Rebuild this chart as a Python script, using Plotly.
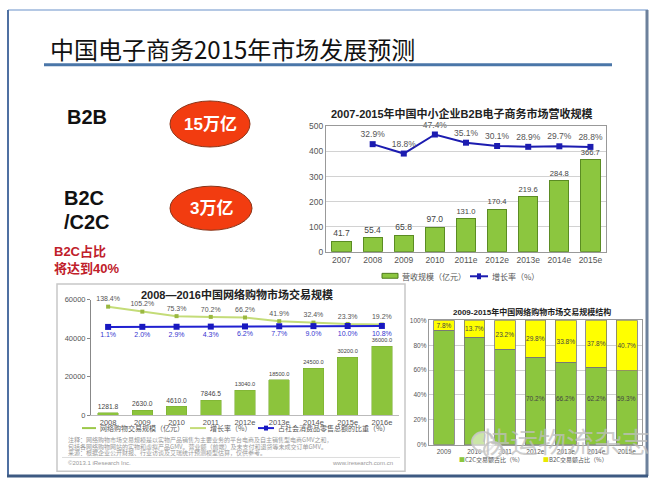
import plotly.graph_objects as go

W, H = 658, 485
def X(px): return px / W
def Y(py): return 1 - py / H

CJK = "Noto Sans CJK SC"
LAT = "Liberation Sans, Noto Sans CJK SC"

# ---------------- data ----------------
# Chart 1: 2007-2015 SME B2B e-commerce revenue
b2b_years = ["2007", "2008", "2009", "2010", "2011e", "2012e", "2013e", "2014e", "2015e"]
b2b_revenue = [41.7, 55.4, 65.8, 97.0, 131.0, 170.4, 219.6, 284.8, 366.7]
b2b_growth_years = ["2008", "2009", "2010", "2011e", "2012e", "2013e", "2014e", "2015e"]
b2b_growth = [32.9, 18.8, 47.4, 35.1, 30.1, 28.9, 29.7, 28.8]

# Chart 2: 2008-2016 online shopping transaction volume
shop_years = ["2008", "2009", "2010", "2011", "2012e", "2013e", "2014e", "2015e", "2016e"]
shop_volume = [1281.8, 2630.0, 4610.0, 7846.5, 13040.0, 18500.0, 24500.0, 30200.0, 36000.0]
shop_growth = [138.4, 105.2, 75.3, 70.2, 66.2, 41.9, 32.4, 23.3, 19.2]
shop_retail_share = [1.1, 2.0, 2.9, 4.3, 6.2, 7.7, 9.0, 10.0, 10.8]

# Chart 3: 2009-2015 structure
struct_years = ["2009", "2010", "2011", "2012e", "2013e", "2014e", "2015e"]
c2c_share = [92.2, 86.3, 76.8, 70.2, 66.2, 62.2, 59.3]
b2c_share = [7.8, 13.7, 23.2, 29.8, 33.8, 37.8, 40.7]

fig = go.Figure()

# ---------------- chart 1 ----------------
fig.add_trace(go.Bar(
    x=b2b_years, y=b2b_revenue, xaxis="x", yaxis="y",
    marker=dict(color="#8cc63f", line=dict(color="#5b8c23", width=1)),
    width=0.62, text=[f"{v:.1f}" for v in b2b_revenue], textposition="outside",
    textfont=dict(size=8.5, color="#444", family=LAT), cliponaxis=False))
fig.add_trace(go.Scatter(
    x=b2b_growth_years, y=b2b_growth, xaxis="x", yaxis="y2",
    mode="lines+markers+text", line=dict(color="#1c1cb0", width=2),
    marker=dict(symbol="square", size=6, color="#1c1cb0"),
    text=[f"{v}%" for v in b2b_growth], textposition="top center",
    textfont=dict(size=8.5, color="#555", family=LAT), cliponaxis=False))

# ---------------- chart 2 ----------------
fig.add_trace(go.Bar(
    x=shop_years, y=shop_volume, xaxis="x2", yaxis="y3",
    marker=dict(color="#8cc43c", line=dict(color="#78aa30", width=0.5)),
    width=0.6, text=[f"{v:.1f}" for v in shop_volume], textposition="outside",
    textfont=dict(size=7, color="#444", family=LAT), cliponaxis=False))
fig.add_trace(go.Scatter(
    x=shop_years, y=shop_growth, xaxis="x2", yaxis="y4",
    mode="lines+markers+text", line=dict(color="#c4dc78", width=2),
    marker=dict(symbol="square", size=4, color="#9ab840"),
    text=[f"{v}%" for v in shop_growth], textposition="top center",
    textfont=dict(size=7, color="#555", family=LAT), cliponaxis=False))
fig.add_trace(go.Scatter(
    x=shop_years, y=shop_retail_share, xaxis="x2", yaxis="y5",
    mode="lines+markers+text", line=dict(color="#2020d0", width=2),
    marker=dict(symbol="square", size=6, color="#1818c0"),
    text=[f"{v:.1f}%" for v in shop_retail_share], textposition="bottom center",
    textfont=dict(size=7, color="#3535d0", family=LAT), cliponaxis=False))

# ---------------- chart 3 ----------------
fig.add_trace(go.Bar(
    x=struct_years, y=c2c_share, xaxis="x3", yaxis="y6",
    marker=dict(color="#8cc63e", line=dict(color="#777", width=0.8)), width=0.68))
fig.add_trace(go.Bar(
    x=struct_years, y=b2c_share, xaxis="x3", yaxis="y6",
    marker=dict(color="#ffff00", line=dict(color="#777", width=0.8)), width=0.68,
    text=[f"{v}%" for v in b2c_share], textposition="inside", insidetextanchor="middle",
    constraintext="none",
    textfont=dict(size=6.5, color="#444", family=LAT), textangle=0))

tick_small = dict(family=LAT, color="#555")

fig.update_layout(
    width=W, height=H, margin=dict(l=0, r=0, t=0, b=0),
    paper_bgcolor="white", plot_bgcolor="white", showlegend=False,
    barmode="stack",
    xaxis=dict(domain=[X(326), X(606)], anchor="y", type="category", range=[-0.5, 8.5],
               tickfont=dict(size=8.5, **tick_small), showline=True, linecolor="#999",
               mirror=True, ticks=""),
    yaxis=dict(domain=[Y(252), Y(124)], anchor="x", range=[0, 500], dtick=100,
               showgrid=True, gridcolor="#d2d2d2", showline=True, linecolor="#999",
               mirror=True, tickfont=dict(size=8.5, **tick_small), ticks="", zeroline=False),
    yaxis2=dict(overlaying="y", anchor="x", range=[-128.7, 59.5], visible=False),
    xaxis2=dict(domain=[X(91), X(399)], anchor="y3", type="category", range=[-0.5, 8.5],
                tickfont=dict(size=7.5, **tick_small), showline=True, linecolor="#bbb",
                ticks=""),
    yaxis3=dict(domain=[Y(419), Y(301)], anchor="x2", range=[0, 60000],
                tickvals=[0, 20000, 40000, 60000], tickformat="d", showgrid=False,
                showline=True, linecolor="#888", ticks="outside", ticklen=3,
                tickcolor="#888", tickfont=dict(size=7.5, **tick_small), zeroline=False),
    yaxis4=dict(overlaying="y3", anchor="x2", range=[-585, 184], visible=False),
    yaxis5=dict(overlaying="y3", anchor="x2", range=[-872, 269], visible=False),
    xaxis3=dict(domain=[X(428.75), X(642)], anchor="y6", type="category",
                range=[-0.5, 6.5], tickfont=dict(size=6.5, **tick_small), showline=True,
                linecolor="#999", mirror=True, ticks=""),
    yaxis6=dict(domain=[Y(449), Y(322)], anchor="x3", range=[0, 100], dtick=20,
                ticksuffix="%", gridcolor="#cfcfcf", showline=True, linecolor="#999",
                mirror=True, tickfont=dict(size=6.5, **tick_small), ticks="",
                zeroline=False),
)

shapes = []
def line(x0, y0, x1, y1, color, width, layer="above"):
    shapes.append(dict(type="line", xref="paper", yref="paper", x0=X(x0), y0=Y(y0),
                       x1=X(x1), y1=Y(y1), line=dict(color=color, width=width), layer=layer))

# slide frame
line(8, 5, 648, 5, "#b4c8e4", 2)
line(8, 5, 8, 481, "#4f70a2", 2)
line(647, 5, 647, 481, "#6d819c", 3)
line(7, 481, 648, 481, "#3d5a82", 3)
# title underline
line(44, 61, 612, 61, "#4a76a8", 3)

# red ellipses
for (x0, y0, x1, y1) in [(170, 98, 250, 145), (170, 185, 252, 230)]:
    shapes.append(dict(type="circle", xref="paper", yref="paper", x0=X(x0), y0=Y(y1),
                       x1=X(x1), y1=Y(y0), fillcolor="#f23c10",
                       line=dict(color="#8a3418", width=1)))

# chart 2 frame & separator
shapes.append(dict(type="rect", xref="paper", yref="paper", x0=X(57), y0=Y(476),
                   x1=X(405), y1=Y(285), line=dict(color="#c8c8c8", width=1.5), layer="below"))
line(62, 462, 400, 462, "#dddddd", 1)

# chart 1 legend swatches
shapes.append(dict(type="rect", xref="paper", yref="paper", x0=X(382), y0=Y(279),
                   x1=X(398), y1=Y(274), fillcolor="#8cc63f",
                   line=dict(color="#4d7a1c", width=1)))
line(470, 277, 488, 277, "#1c1cb0", 2)
shapes.append(dict(type="rect", xref="paper", yref="paper", x0=X(477), y0=Y(280),
                   x1=X(481), y1=Y(274), fillcolor="#1c1cb0", line=dict(width=0)))

# chart 2 legend swatches
line(82, 432, 96, 432, "#9cc84a", 2)
line(190, 432, 206, 432, "#c4dc78", 2)
line(258, 432, 274, 432, "#2020d0", 2)
shapes.append(dict(type="rect", xref="paper", yref="paper", x0=X(264), y0=Y(434.5),
                   x1=X(268), y1=Y(429.5), fillcolor="#1818c0", line=dict(width=0)))

# wechat-like watermark icon
shapes.append(dict(type="circle", xref="paper", yref="paper", x0=X(472), y0=Y(456),
                   x1=X(494), y1=Y(436), fillcolor="rgba(255,255,255,0.55)",
                   line=dict(color="rgba(200,200,200,0.9)", width=2)))
shapes.append(dict(type="circle", xref="paper", yref="paper", x0=X(484), y0=Y(463),
                   x1=X(502), y1=Y(446), fillcolor="rgba(255,255,255,0.55)",
                   line=dict(color="rgba(200,200,200,0.9)", width=2)))

fig.update_layout(shapes=shapes)

ann = []
def txt(x, y, s, size, color="#000", family=CJK, xanchor="left", bold=False, **kw):
    if bold:
        s = f"<b>{s}</b>"
    ann.append(dict(x=X(x), y=Y(y), xref="paper", yref="paper", text=s, showarrow=False,
                    xanchor=xanchor, yanchor="middle",
                    font=dict(size=size, color=color, family=family), **kw))

txt(48, 44, "中国电子商务2015年市场发展预测", 24, "#111")
txt(65, 114, "B2B", 20, "#111", LAT, bold=True)
txt(62, 197, "B2C", 20, "#111", LAT, bold=True)
txt(62, 222, "/C2C", 20, "#111", LAT, bold=True)
txt(52, 252, "B2C占比", 13, "#c0202a", LAT, bold=True)
txt(52, 269, "将达到40%", 13, "#c0202a", LAT, bold=True)
txt(210, 122, "15万亿", 17, "white", LAT, xanchor="center", bold=True)
txt(211, 208, "3万亿", 17, "white", LAT, xanchor="center", bold=True)

# chart titles
txt(462, 111, "2007-2015年中国中小企业B2B电子商务市场营收规模", 11, "#222", LAT,
    xanchor="center", bold=True)
txt(237, 296, "2008—2016中国网络购物市场交易规模", 11, "#222", LAT, xanchor="center", bold=True)
txt(532, 313, "2009-2015年中国网络购物市场交易规模结构", 8, "#222", LAT, xanchor="center",
    bold=True)

# chart 1 legend text
txt(400, 277, "营收规模（亿元）", 8, "#555")
txt(490, 277, "增长率（%）", 8, "#555")

# chart 2 legend text
txt(98, 432, "网络购物交易规模（亿元）", 7, "#555")
txt(208, 432, "增长率（%）", 7, "#555")
txt(276, 432, "占社会消费品零售总额的比重（%）", 7, "#555")

# chart 2 notes
notes = [
    "注释：网络购物市场交易规模是以实物产品销售为主要业务的平台电商及自主销售型电商GMV之和，",
    "包括各网络购物网站的实物和虚拟产品GMV。营业额（前端）及未支付和退货等未成交订单GMV。",
    "来源：根据企业公开财报、行业访谈及艾瑞统计预测模型估算，仅供参考。",
]
for i, s in enumerate(notes):
    txt(66, 444 + i * 6.5, s, 6, "#999")
txt(66, 468, "©2013.1 iResearch Inc.", 6, "#999", LAT)
txt(395, 468, "www.iresearch.com.cn", 6, "#999", LAT, xanchor="right")

# chart 3 legend
txt(457, 464, '<span style="color:#8cc63e">■</span>C2C交易额占比（%）', 6, "#555")
txt(541, 464, '<span style="color:#e8e800">■</span>B2C交易额占比（%）', 6, "#555")

# chart 3 C2C labels
for yr, v in zip(struct_years, c2c_share):
    ann.append(dict(x=yr, y=37, xref="x3", yref="y6", text=f"{v}%", showarrow=False,
                    font=dict(size=6.5, color="#444", family=LAT)))

# watermark
txt(566, 445, "快运物流杂志", 28, "rgba(190,190,190,0.75)", xanchor="center")

fig.update_layout(annotations=ann)
fig.write_html("out.html")
